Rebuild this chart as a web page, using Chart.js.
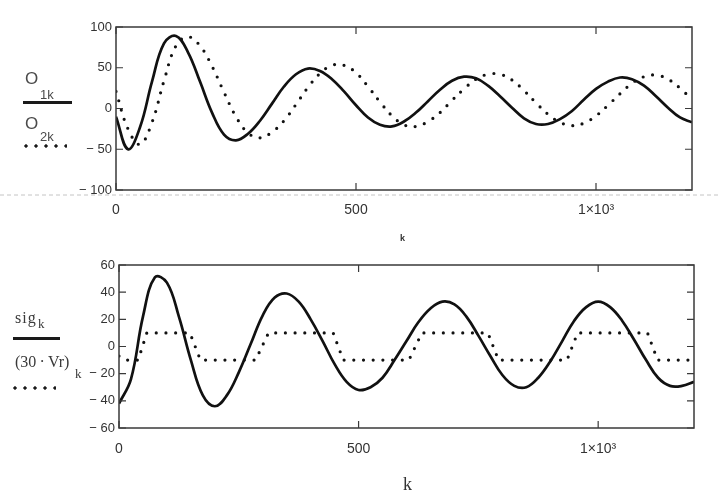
<!DOCTYPE html>
<html>
<head>
<meta charset="utf-8">
<script src="https://cdn.jsdelivr.net/npm/chart.js@4.4.1/dist/chart.umd.min.js"></script>
<style>
  html, body { margin: 0; padding: 0; background: #fff; }
  body { width: 719px; height: 498px; position: relative; overflow: hidden; }
  canvas { position: absolute; left: 40px; }
  #topChart { top: 0; }
  #botChart { top: 235px; }
  .lbl { position: absolute; line-height: 1; color: #3a3a3a; white-space: nowrap; will-change: transform; }
  .sans { font-family: "Liberation Sans", Arial, sans-serif; }
  .serif { font-family: "Liberation Serif", "Times New Roman", serif; }
  .solid { position: absolute; height: 2.5px; background: #1a1a1a; }
  .dots { position: absolute; height: 4px;
    background: radial-gradient(circle, #1a1a1a 1.4px, transparent 1.9px) 0 0 / 10px 4px repeat-x; }
  #sep { position: absolute; left: 0; top: 194px; }
</style>
</head>
<body>
<svg id="sep" width="719" height="2"><line x1="0" y1="1" x2="719" y2="1" stroke="#c4c4c4" stroke-width="1" stroke-dasharray="4 3"/></svg>

<!-- left-hand trace labels, top plot -->
<div class="lbl sans" style="left:25px;top:70px;font-size:17px;color:#4a4a4a">O</div>
<div class="lbl sans" style="left:40px;top:88px;font-size:13px;color:#4a4a4a">1k</div>
<div class="solid" style="left:23px;top:101px;width:49px"></div>
<div class="lbl sans" style="left:25px;top:115px;font-size:17px;color:#4a4a4a">O</div>
<div class="lbl sans" style="left:40px;top:130px;font-size:13px;color:#4a4a4a">2k</div>
<div class="dots" style="left:21px;top:144px;width:46px"></div>
<div class="lbl sans" style="left:400px;top:234px;font-size:9px;font-weight:bold;color:#333">k</div>

<!-- left-hand trace labels, bottom plot -->
<div class="lbl serif" style="left:15px;top:310px;font-size:16px;letter-spacing:1px">sig</div>
<div class="lbl serif" style="left:38px;top:317px;font-size:13px">k</div>
<div class="solid" style="left:13px;top:337px;width:47px"></div>
<div class="lbl serif" style="left:15px;top:354px;font-size:16px">(30&thinsp;·&thinsp;Vr)</div>
<div class="lbl serif" style="left:75px;top:367px;font-size:13px">k</div>
<div class="dots" style="left:10px;top:386px;width:46px"></div>
<div class="lbl serif" style="left:403px;top:475px;font-size:18px;color:#333">k</div>

<canvas id="topChart" width="670" height="230"></canvas>
<canvas id="botChart" width="670" height="233"></canvas>

<script>
  "use strict";

  // k samples shared by the three smooth traces
  const kGrid = [0, 25, 50, 75, 100, 125, 150, 175, 200, 225, 250, 275, 300, 325, 350, 375, 400,
    425, 450, 475, 500, 525, 550, 575, 600, 625, 650, 675, 700, 725, 750, 775, 800,
    825, 850, 875, 900, 925, 950, 975, 1000, 1025, 1050, 1075, 1100, 1125, 1150, 1175, 1200];

  const o1Values = [-10, -50, -23, 33, 80, 89, 69, 33, -5, -32, -39, -31, -15, 6, 27, 42, 49,
    46, 36, 21, 4, -11, -20, -22, -16, -5, 9, 23, 34, 39, 37, 28, 15,
    1, -12, -19, -19, -13, -3, 11, 24, 33, 38, 36, 28, 15, 1, -11, -17];

  const o2Values = [21, -25, -44, -17, 34, 77, 88, 77, 52, 20, -10, -30, -36, -29, -15, 5, 26,
    43, 53, 53, 44, 27, 8, -9, -20, -22, -16, -5, 10, 24, 36, 42, 42,
    35, 22, 7, -7, -17, -21, -18, -9, 4, 18, 31, 39, 41, 36, 25, 11];

  const sigValues = [-42, -24, 22, 51, 47, 22, -10, -36, -44, -36, -19, 2, 23, 36, 39, 33, 20,
    4, -13, -26, -32, -30, -23, -10, 4, 18, 28, 33, 31, 22, 8, -7, -21,
    -29, -30, -23, -11, 4, 19, 29, 33, 29, 19, 5, -10, -23, -29, -29, -26];

  // (30*Vr) is a stepped trace, so it keeps its own break points
  const vrK = [0, 15, 40, 58, 148, 170, 285, 312, 447, 468, 605, 632, 770, 792, 935, 957, 1103, 1124, 1200];
  const vrValues = [-7, -10, -10, 10, 10, -10, -10, 10, 10, -10, -10, 10, 10, -10, -10, 10, 10, -10, -10];

  const xTicks = [0, 500, 1000];
  const topYTicks = [-100, -50, 0, 50, 100];
  const botYTicks = [-60, -40, -20, 0, 20, 40, 60];

  const INK = "#111";

  function points(xs, ys) {
    return xs.map((x, i) => ({ x, y: ys[i] }));
  }

  function solidTrace(data) {
    return { data, borderColor: INK, borderWidth: 2.7, pointRadius: 0, tension: 0.4, fill: false };
  }

  function dottedTrace(data, tension) {
    return {
      data,
      borderColor: INK,
      borderWidth: 3.2,
      borderDash: [0, 9.7],
      borderCapStyle: "round",
      pointRadius: 0,
      tension,
      fill: false,
    };
  }

  function fmtX(v) {
    return v === 1000 ? "1×10³" : String(v);
  }

  function fmtY(v) {
    return v < 0 ? "\u2212 " + Math.abs(v) : String(v);
  }

  // box round the plot plus short tick marks pointing inwards on all four sides
  const frameTicks = {
    id: "frameTicks",
    afterDatasetsDraw(chart) {
      const { ctx, chartArea: a, scales } = chart;
      ctx.save();
      ctx.strokeStyle = "#3a3a3a";
      ctx.lineWidth = 1.5;
      ctx.strokeRect(a.left, a.top, a.right - a.left, a.bottom - a.top);
      ctx.lineWidth = 1.2;
      ctx.beginPath();
      scales.y.ticks.forEach((t) => {
        const py = scales.y.getPixelForValue(t.value);
        ctx.moveTo(a.left, py);
        ctx.lineTo(a.left + 7, py);
        ctx.moveTo(a.right, py);
        ctx.lineTo(a.right - 7, py);
      });
      scales.x.ticks.forEach((t) => {
        const px = scales.x.getPixelForValue(t.value);
        ctx.moveTo(px, a.top);
        ctx.lineTo(px, a.top + 7);
        ctx.moveTo(px, a.bottom);
        ctx.lineTo(px, a.bottom - 7);
      });
      ctx.stroke();
      ctx.restore();
    },
  };

  function makeChart(canvasId, datasets, yTicks, opts) {
    return new Chart(document.getElementById(canvasId), {
      type: "line",
      data: { datasets },
      plugins: [frameTicks],
      options: {
        responsive: false,
        animation: false,
        events: [],
        layout: { padding: { top: opts.padTop, right: opts.padRight, left: 0, bottom: 0 } },
        plugins: { legend: { display: false }, tooltip: { enabled: false } },
        scales: {
          x: {
            type: "linear",
            min: 0,
            max: 1200,
            afterBuildTicks: (s) => { s.ticks = xTicks.map((v) => ({ value: v })); },
            afterFit: (s) => { s.height = 40; },
            grid: { display: false, drawTicks: false },
            border: { display: false },
            ticks: {
              padding: opts.xPad,
              color: "#333",
              autoSkip: false,
              maxRotation: 0,
              font: { family: "Liberation Sans", size: 14 },
              callback: fmtX,
            },
          },
          y: {
            min: yTicks[0],
            max: yTicks[yTicks.length - 1],
            afterBuildTicks: (s) => { s.ticks = yTicks.map((v) => ({ value: v })); },
            afterFit: (s) => { s.width = opts.yWidth; },
            grid: { display: false, drawTicks: false },
            border: { display: false },
            ticks: {
              padding: 4,
              color: "#333",
              font: { family: "Liberation Sans", size: 13 },
              callback: fmtY,
            },
          },
        },
      },
    });
  }

  makeChart(
    "topChart",
    [solidTrace(points(kGrid, o1Values)), dottedTrace(points(kGrid, o2Values), 0.4)],
    topYTicks,
    { padTop: 27, padRight: 18, yWidth: 76, xPad: 12 }
  );

  makeChart(
    "botChart",
    [solidTrace(points(kGrid, sigValues)), dottedTrace(points(vrK, vrValues), 0)],
    botYTicks,
    { padTop: 30, padRight: 16, yWidth: 79, xPad: 13 }
  );
</script>
</body>
</html>
